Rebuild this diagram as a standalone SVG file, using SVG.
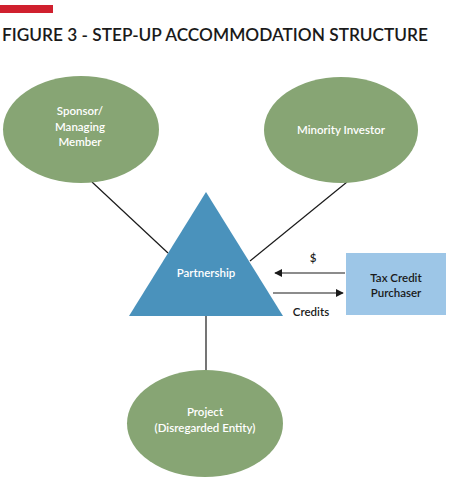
<svg xmlns="http://www.w3.org/2000/svg" width="462" height="494" viewBox="0 0 462 494">
<defs>
<style>
.ell{fill:#87A574}
.wt{fill:#fff;font-family:Lato,"Open Sans",sans-serif;font-size:11.5px;font-weight:600;text-anchor:middle}
.bt{fill:#1a1a1a;font-family:Lato,"Open Sans",sans-serif;font-size:11.5px;font-weight:600;text-anchor:middle}
.ln{stroke:#1a1a1a;stroke-width:1.2;fill:none}
</style>
<marker id="ah" viewBox="0 0 10 10" refX="9" refY="5" markerWidth="8" markerHeight="8" markerUnits="userSpaceOnUse" orient="auto">
<path d="M0,0 L10,5 L0,10 z" fill="#1a1a1a"/>
</marker>
</defs>
<rect width="462" height="494" fill="#fff"/>
<rect x="0" y="5" width="53" height="8" fill="#D0202E"/>
<text x="2" y="41" font-family="Lato,'Open Sans',sans-serif" font-size="17" font-weight="600" fill="#1a1a1a" textLength="426" lengthAdjust="spacingAndGlyphs">FIGURE 3 - STEP-UP ACCOMMODATION STRUCTURE</text>
<g id="connectors">
<line class="ln" x1="92" y1="182" x2="168" y2="253"/>
<line class="ln" x1="347" y1="182" x2="250" y2="261"/>
<line class="ln" x1="206" y1="316" x2="206" y2="371"/>
<line class="ln" x1="345" y1="273" x2="275" y2="273" marker-end="url(#ah)"/>
<line class="ln" x1="273" y1="293" x2="343" y2="293" marker-end="url(#ah)"/>
<text class="bt" x="313" y="262">$</text>
<text class="bt" x="311" y="316">Credits</text>
</g>
<g id="sponsor">
<ellipse class="ell" cx="81" cy="129.5" rx="78" ry="53.5"/>
<text class="wt" x="80" y="115">Sponsor/</text>
<text class="wt" x="80" y="130.5">Managing</text>
<text class="wt" x="80" y="146">Member</text>
</g>
<g id="minority">
<ellipse class="ell" cx="341" cy="130" rx="77" ry="53"/>
<text class="wt" x="341" y="134">Minority Investor</text>
</g>
<g id="partnership">
<polygon points="206,192 129,316 283,316" fill="#4A92BC"/>
<text class="wt" x="206" y="277">Partnership</text>
</g>
<g id="purchaser">
<rect x="346" y="253" width="100" height="62" fill="#9DC6E7"/>
<text class="bt" x="396" y="282">Tax Credit</text>
<text class="bt" x="396" y="297">Purchaser</text>
</g>
<g id="project">
<ellipse class="ell" cx="205" cy="423.5" rx="78" ry="53.5"/>
<text class="wt" x="205" y="416">Project</text>
<text class="wt" x="205" y="432">(Disregarded Entity)</text>
</g>
</svg>
